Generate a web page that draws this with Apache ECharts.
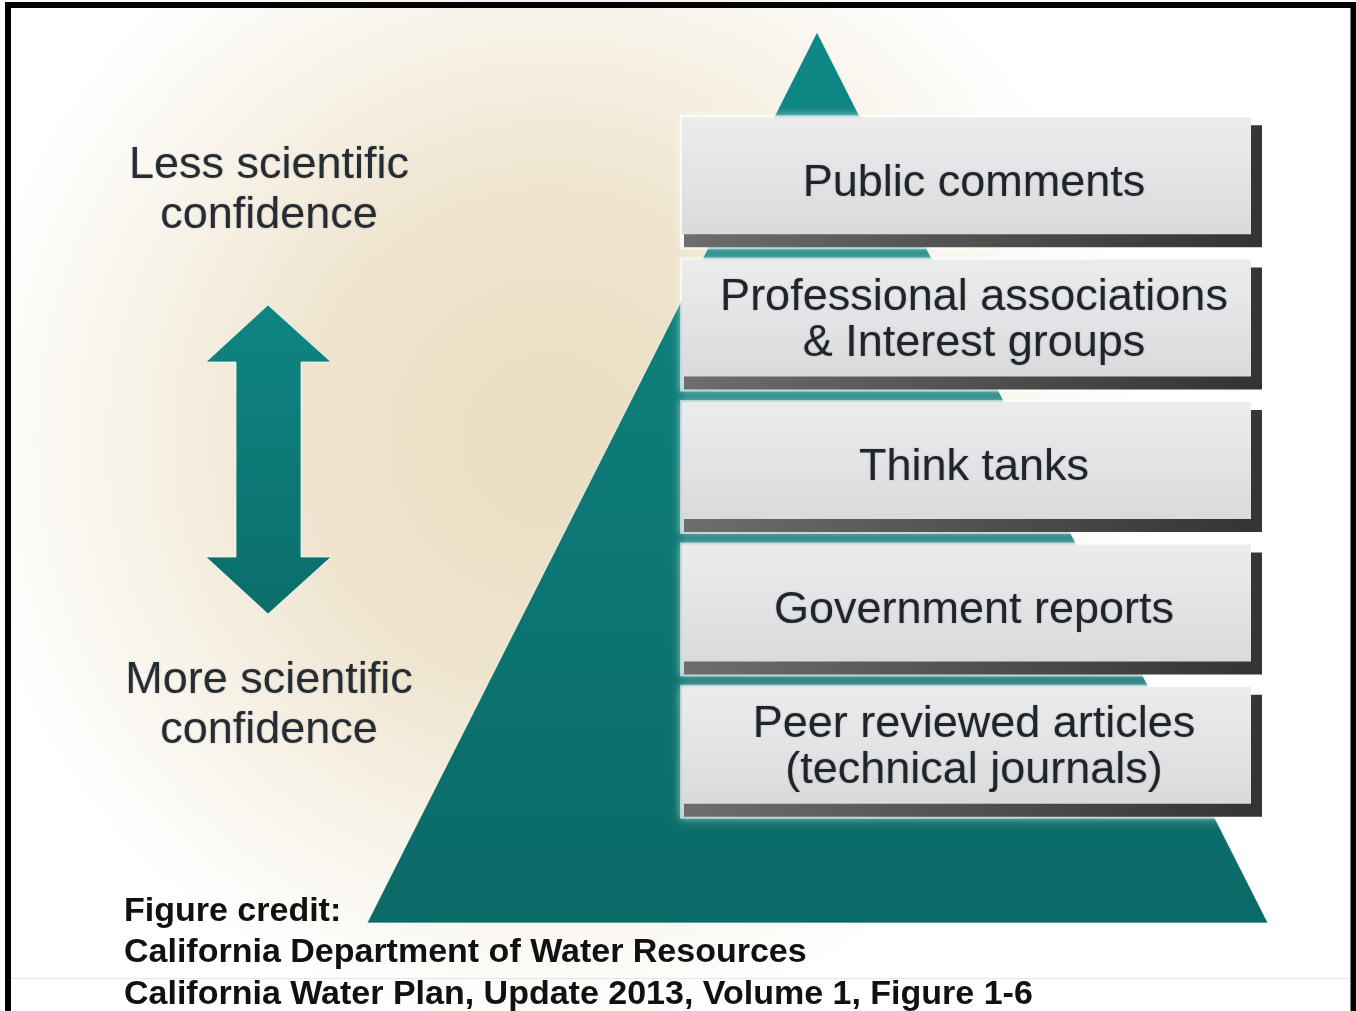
<!DOCTYPE html>
<html>
<head>
<meta charset="utf-8">
<title>Scientific confidence pyramid</title>
<script src="https://cdn.jsdelivr.net/npm/echarts@6/dist/echarts.min.js"></script>
<style>
    html, body { margin: 0; padding: 0; background: #fff; }
    #chart { width: 1356px; height: 1011px; }
</style>
</head>
<body>
<div id="chart"></div>
<script>
// tiers, top of the pyramid first
var tierLabels = [
    "Public comments",
    "Professional associations\n& Interest groups",
    "Think tanks",
    "Government reports",
    "Peer reviewed articles\n(technical journals)"
];
var tierSpan = [1, 1, 1, 1, 1];
var confidenceLabels = ["Less scientific\nconfidence", "More scientific\nconfidence"];
var creditLines = [
    "Figure credit:",
    "California Department of Water Resources",
    "California Water Plan, Update 2013, Volume 1, Figure 1-6"
];

var FONT = '"Liberation Sans", Arial, sans-serif';

var chart = echarts.init(document.getElementById("chart"), null, { renderer: "canvas" });

var renderTier = function (params, api) {
    var idx = api.value(1);
    var start = api.coord([0, idx]);
    var end = api.coord([api.value(0), idx]);
    var h = 130;
    var x0 = start[0];
    var x1 = end[0];
    var y0 = start[1] - h / 2;
    var label = tierLabels[idx];
    var twoLines = label.indexOf("\n") >= 0;
    return {
        type: "group",
        children: [
            {
                // soft halo
                type: "rect",
                shape: { x: x0 - 2, y: y0 - 2, width: x1 - x0 + 4, height: h + 4 },
                style: { fill: "rgba(255,255,255,0.6)", shadowBlur: 8, shadowColor: "rgba(255,255,255,0.9)" }
            },
            {
                // extruded dark side
                type: "rect",
                shape: { x: x0 + 2, y: y0 + 8, width: x1 - x0 - 2, height: h - 8 },
                style: {
                    fill: new echarts.graphic.LinearGradient(0, 0, 1, 1, [
                        { offset: 0, color: "#707070" },
                        { offset: 1, color: "#333333" }
                    ])
                }
            },
            {
                // face
                type: "rect",
                shape: { x: x0, y: y0, width: x1 - x0 - 11, height: h - 13 },
                style: {
                    fill: new echarts.graphic.LinearGradient(0, 0, 0, 1, [
                        { offset: 0, color: "#ececed" },
                        { offset: 0.5, color: "#e4e4e6" },
                        { offset: 1, color: "#dadadb" }
                    ])
                }
            },
            {
                type: "text",
                style: {
                    text: label,
                    x: (x0 + x1) / 2 + 2,
                    y: y0 + (twoLines ? 61 : 66),
                    align: "center",
                    verticalAlign: "middle",
                    fontSize: 45,
                    fontFamily: FONT,
                    lineHeight: 46,
                    fill: "#1e252c",
                    textShadowColor: "rgba(0,0,0,0.25)",
                    textShadowBlur: 2
                }
            }
        ]
    };
};

var option = {
    backgroundColor: "#ffffff",
    animation: false,
    grid: { left: 682, top: 111, width: 580, height: 712 },
    xAxis: { type: "value", min: 0, max: 1, show: false },
    yAxis: { type: "category", data: tierLabels, inverse: true, show: false },
    graphic: [
        {
            type: "rect",
            z: 0,
            shape: { x: 0, y: 0, width: 1356, height: 1011 },
            style: {
                fill: {
                    type: "radial", x: 550, y: 440, r: 590, global: true,
                    colorStops: [
                        { offset: 0, color: "#eadec2" },
                        { offset: 0.4, color: "#eee4cd" },
                        { offset: 0.72, color: "#f8f3e9" },
                        { offset: 1, color: "#ffffff" }
                    ]
                }
            }
        },
        {
            type: "polygon",
            z: 1,
            shape: { points: [[817, 32], [367, 923], [1268, 923]] },
            style: {
                fill: new echarts.graphic.LinearGradient(0, 0, 0, 1, [
                    { offset: 0, color: "#0f8886" },
                    { offset: 1, color: "#0a6a66" }
                ]),
                stroke: "rgba(255,255,255,0.7)",
                lineWidth: 1
            }
        },
        {
            type: "polygon",
            z: 1,
            shape: {
                points: [[268, 305], [206, 362], [236, 362], [236, 557], [206, 557],
                         [268, 614], [331, 557], [301, 557], [301, 362], [331, 362]]
            },
            style: {
                fill: new echarts.graphic.LinearGradient(0, 0, 0, 1, [
                    { offset: 0, color: "#0f8583" },
                    { offset: 1, color: "#0b6e6b" }
                ]),
                stroke: "rgba(255,255,255,0.7)",
                lineWidth: 1
            }
        },
        {
            type: "text",
            z: 3,
            style: {
                text: confidenceLabels[0], x: 269, y: 191, align: "center", verticalAlign: "middle",
                fontSize: 45, fontFamily: FONT, lineHeight: 50, fill: "#262c33",
                textShadowColor: "rgba(0,0,0,0.25)", textShadowBlur: 2
            }
        },
        {
            type: "text",
            z: 3,
            style: {
                text: confidenceLabels[1], x: 269, y: 706, align: "center", verticalAlign: "middle",
                fontSize: 45, fontFamily: FONT, lineHeight: 50, fill: "#262c33",
                textShadowColor: "rgba(0,0,0,0.25)", textShadowBlur: 2
            }
        },
        {
            type: "line",
            z: 2,
            shape: { x1: 11, y1: 978.5, x2: 1351, y2: 978.5 },
            style: { stroke: "#e6e6e6", lineWidth: 1 }
        },
        {
            type: "text",
            z: 3,
            style: {
                text: creditLines.join("\n"), x: 124, y: 953, align: "left", verticalAlign: "middle",
                fontSize: 34, fontWeight: "bold", fontFamily: FONT, lineHeight: 41.5, fill: "#111111"
            }
        },
        {
            // black frame (open at the bottom)
            type: "polyline",
            z: 4,
            shape: { points: [[8, 1011], [8, 5], [1353.5, 5], [1353.5, 1011]] },
            style: { stroke: "#000000", lineWidth: 6, fill: null }
        }
    ],
    series: [
        {
            type: "custom",
            z: 10,
            renderItem: renderTier,
            encode: { x: 0, y: 1 },
            data: tierSpan.map(function (v, i) { return [v, i]; })
        }
    ]
};

chart.setOption(option);
</script>
</body>
</html>
